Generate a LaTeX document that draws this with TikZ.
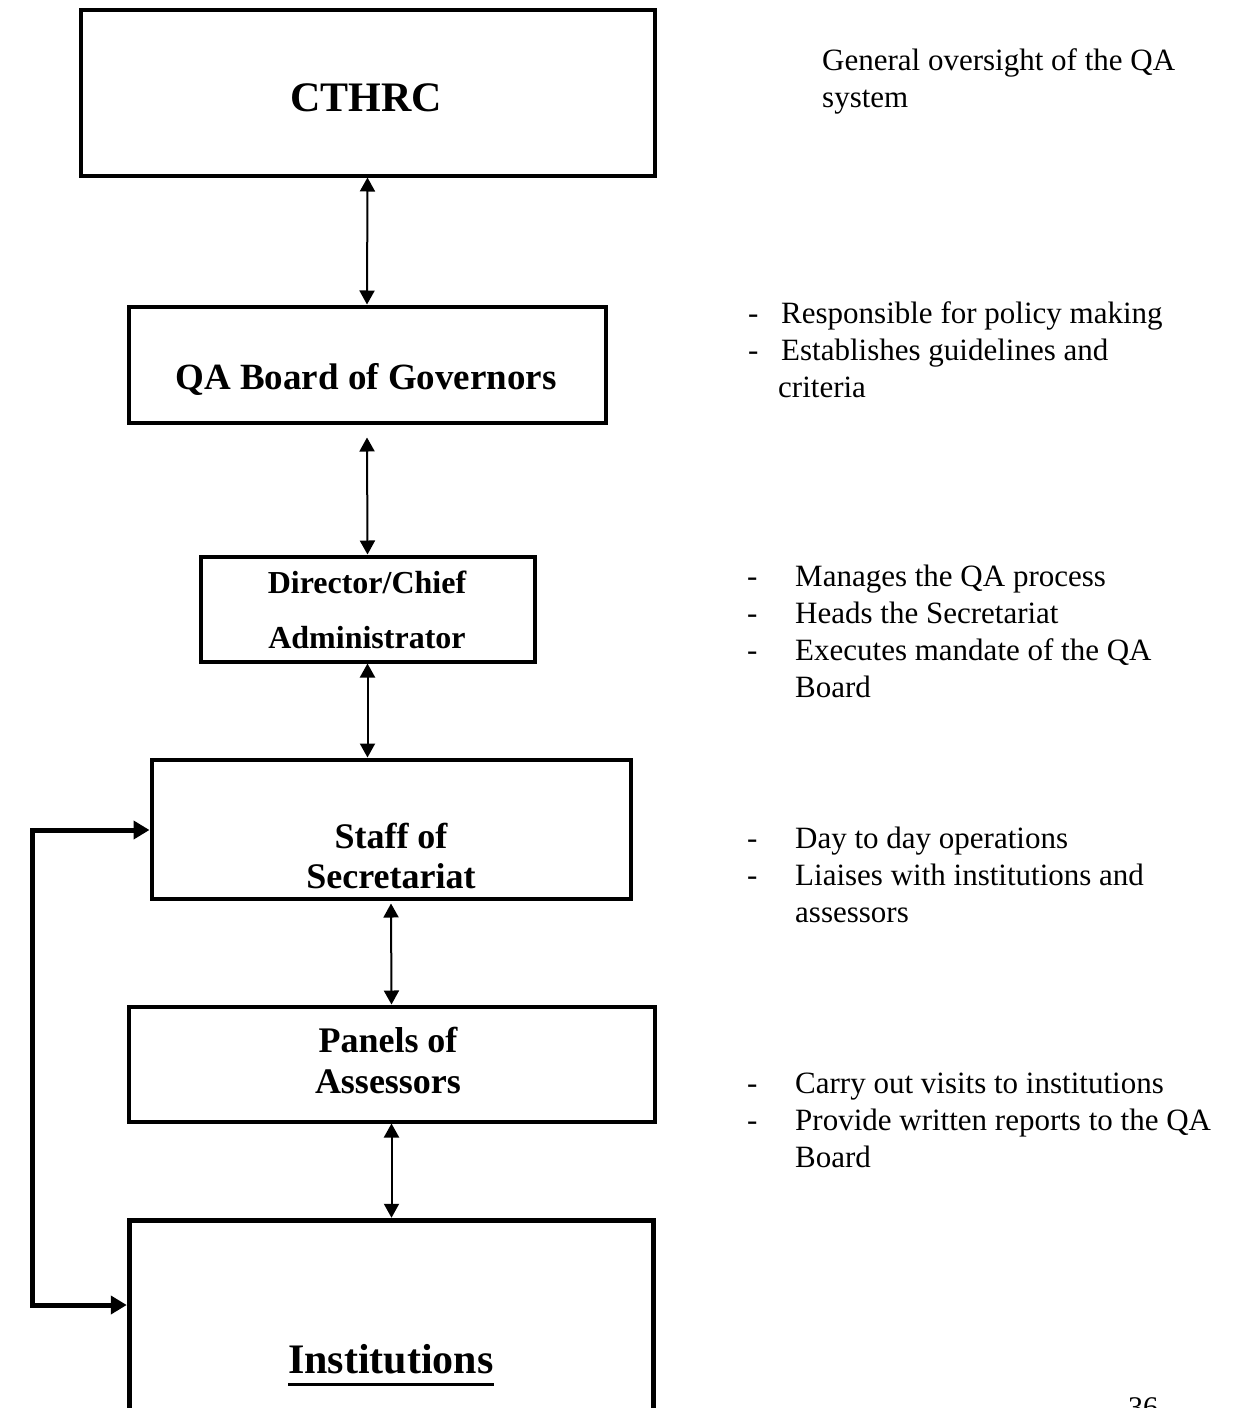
\documentclass[tikz,border=0pt]{standalone}
\usepackage{fontspec}
\setmainfont{Liberation Serif}
\usetikzlibrary{arrows.meta}

\newcommand{\dashitem}[2][48pt]{\makebox[#1][l]{-}#2}
\newcommand{\hangitem}[2][48pt]{\hspace*{#1}#2}
\newcommand{\ulbold}[1]{\setbox0\hbox{#1}\rlap{\rule[-13pt]{\wd0}{3.5pt}}\box0}

\begin{document}
\begin{tikzpicture}
    [x=1pt, y=-1pt,
    box/.style={draw, line width=4pt, inner sep=0pt},
    heavybox/.style={draw, line width=5.5pt, inner sep=0pt},
    boxtext/.style={font=\bfseries\fontsize{36}{40}\selectfont, align=center, inner sep=0pt, anchor=base},
    note/.style={font=\fontsize{31}{37}\selectfont, align=left, inner sep=0pt, anchor=base west},
    link/.style={line width=2pt, {Triangle[width=15pt,length=14pt]}-{Triangle[width=15pt,length=14pt]}},
    feedback/.style={line width=5pt, {Triangle[width=18pt,length=16pt]}-{Triangle[width=18pt,length=16pt]}}]
  \useasboundingbox (0,0) rectangle (1238,1408);

  % boxes
  \node [box, minimum width=574pt, minimum height=166pt] (cthrc) at (367.5,92.5) {};
  \node [box, minimum width=477pt, minimum height=116pt] (board) at (367,364.5) {};
  \node [box, minimum width=334pt, minimum height=105pt] (director) at (367.5,609) {};
  \node [box, minimum width=479pt, minimum height=139pt] (staff) at (391,829) {};
  \node [box, minimum width=526pt, minimum height=115pt] (panels) at (391.5,1064) {};
  \node [heavybox, minimum width=524pt, minimum height=250pt] (inst) at (391.5,1345.5) {};

  % box texts (base = last line)
  \node [boxtext, font=\bfseries\fontsize{42}{48}\selectfont] (cthrc-text) at (366,111) {CTHRC};
  \node [boxtext, font=\bfseries\fontsize{37}{42}\selectfont] (board-text) at (366,389) {QA Board of Governors};
  \node [boxtext, font=\bfseries\fontsize{32}{55}\selectfont] (director-text) at (367,648) {Director/Chief\\Administrator};
  \node [boxtext] (staff-text) at (391,888) {Staff of\\Secretariat};
  \node [boxtext, font=\bfseries\fontsize{36}{41}\selectfont] (panels-text) at (388,1093) {Panels of\\Assessors};
  \node [boxtext, font=\bfseries\fontsize{42}{48}\selectfont] (inst-text) at (391,1373) {\ulbold{Institutions}};

  % notes on the right
  \node [note] (cthrc-note) at (822,107) {General oversight of the QA\\system};
  \node [note] (board-note) at (748,397) {\dashitem[33pt]{Responsible for policy making}\\
    \dashitem[33pt]{Establishes guidelines and}\\\hangitem[30pt]{criteria}};
  \node [note] (director-note) at (747,697) {\dashitem{Manages the QA process}\\
    \dashitem{Heads the Secretariat}\\\dashitem{Executes mandate of the QA}\\\hangitem{Board}};
  \node [note] (staff-note) at (747,922) {\dashitem{Day to day operations}\\
    \dashitem{Liaises with institutions and}\\\hangitem{assessors}};
  \node [note] (panels-note) at (747,1167) {\dashitem{Carry out visits to institutions}\\
    \dashitem{Provide written reports to the QA}\\\hangitem{Board}};
  \node [anchor=base west, inner sep=0pt, font=\fontsize{30}{36}\selectfont] (pageno) at (1128,1417) {36};

  % connectors
  \draw [link] (cthrc.south) -- (board.north);
  \draw [link] ([yshift=-13pt]board.south) -- (director.north);
  \draw [link] (director.south) -- (director.south |- staff.north);
  \draw [link] ([yshift=-3pt]staff.south) -- (panels.north);
  \draw [link] (panels.south) -- (inst.north);

  \coordinate (loop-top) at (32,830);
  \coordinate (loop-bottom) at (32,1305);
  \draw [feedback] (staff.west |- loop-top) -- (loop-top) -- (loop-bottom) -- (inst.west |- loop-bottom);
\end{tikzpicture}
\end{document}
